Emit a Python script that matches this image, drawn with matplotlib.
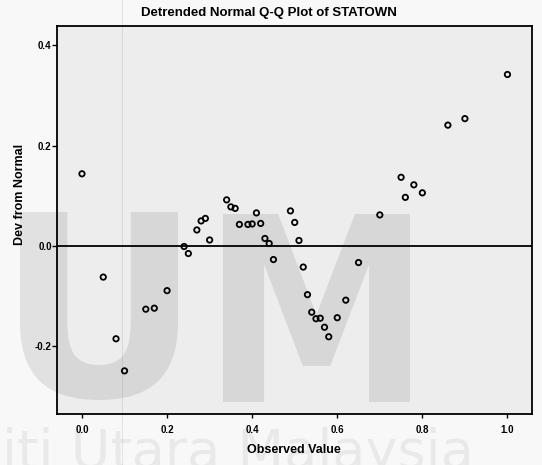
import matplotlib
matplotlib.use("Agg")
import matplotlib.pyplot as plt
from matplotlib.textpath import TextPath
from matplotlib.font_manager import FontProperties
from matplotlib.patches import PathPatch
from matplotlib.transforms import Affine2D
from matplotlib.lines import Line2D

# Observed values of STATOWN and their deviation from the normal line
observed = [0.00, 0.05, 0.08, 0.10, 0.15, 0.17, 0.20, 0.24, 0.25, 0.27,
            0.28, 0.29, 0.30, 0.34, 0.35, 0.36, 0.37, 0.39, 0.40, 0.41,
            0.42, 0.43, 0.44, 0.45, 0.49, 0.50, 0.51, 0.52, 0.53, 0.54,
            0.55, 0.56, 0.57, 0.58, 0.60, 0.62, 0.65, 0.70, 0.75, 0.76,
            0.78, 0.80, 0.86, 0.90, 1.00]
deviation = [0.144, -0.062, -0.185, -0.249, -0.126, -0.124, -0.089, -0.001, -0.015, 0.032,
             0.050, 0.055, 0.012, 0.092, 0.078, 0.075, 0.043, 0.043, 0.044, 0.066,
             0.045, 0.015, 0.005, -0.027, 0.070, 0.047, 0.011, -0.042, -0.097, -0.132,
             -0.145, -0.144, -0.162, -0.181, -0.143, -0.108, -0.033, 0.062, 0.137, 0.097,
             0.122, 0.106, 0.241, 0.254, 0.342]

x_ticks = [0.0, 0.2, 0.4, 0.6, 0.8, 1.0]
x_tick_labels = ["0.0", "0.2", "0.4", "0.6", "0.8", "1.0"]
y_ticks = [-0.2, 0.0, 0.2, 0.4]
y_tick_labels = ["-0.2", "0.0", "0.2", "0.4"]

title = "Detrended Normal Q-Q Plot of STATOWN"
x_label = "Observed Value"
y_label = "Dev from Normal"

W, H = 542, 465
plt.rcParams["font.family"] = ["Liberation Sans", "DejaVu Sans"]

fig = plt.figure(figsize=(W / 100, H / 100), dpi=100, facecolor="#f8f8f8")

# plot frame placed in pixel units
left_px, right_px, top_px, bottom_px = 57.3, 531.7, 26.0, 414.3
ax = fig.add_axes([left_px / W, 1 - bottom_px / H,
                   (right_px - left_px) / W, (bottom_px - top_px) / H])
ax.set_facecolor("#ededed")
ax.set_xlim(-0.058, 1.057)
ax.set_ylim(-0.3356, 0.4387)

ax.axhline(0.0, color="black", lw=1.3, zorder=1)
ax.scatter(observed, deviation, s=15, facecolors="none",
           edgecolors="black", linewidths=1.3, zorder=3)

ax.set_xticks(x_ticks)
ax.set_xticklabels(x_tick_labels)
ax.set_yticks(y_ticks)
ax.set_yticklabels(y_tick_labels)
ax.tick_params(axis="x", length=3, width=1, pad=5, labelsize=7, colors="black")
ax.tick_params(axis="y", length=3.5, width=1, pad=0.5, labelsize=7, colors="black")
for lab in ax.get_xticklabels() + ax.get_yticklabels():
    lab.set_fontweight("bold")
for sp in ax.spines.values():
    sp.set_linewidth(1.3)
    sp.set_color("black")

fig.text(269 / W, 1 - 13 / H, title, ha="center", va="center",
         fontsize=9.5, fontweight="bold")
fig.text(294 / W, 1 - 450 / H, x_label, ha="center", va="center",
         fontsize=9, fontweight="bold")
fig.text(20 / W, 1 - 194 / H, y_label, ha="center", va="center",
         rotation=90, fontsize=9, fontweight="bold")


# faint university emblem letters over the chart
def glyph(ch, x0, y0, x1, y1, alpha):
    tp = TextPath((0, 0), ch, size=100,
                  prop=FontProperties(family="DejaVu Sans", weight="bold"))
    ext = tp.get_extents()
    sx = (x1 - x0) / ext.width
    sy = (y1 - y0) / ext.height
    tr = (Affine2D().translate(-ext.x0, -ext.y0)
          .scale(sx / W, sy / H)
          .translate(x0 / W, 1 - y1 / H))
    fig.add_artist(PathPatch(tr.transform_path(tp), transform=fig.transFigure,
                             facecolor="black", edgecolor="none",
                             alpha=alpha, zorder=5))


glyph("U", 20, 212, 178, 400, 0.09)
glyph("M", 223, 214, 410, 402, 0.09)

fig.text(2 / W, 1 - 468 / H, "iti Utara Malaysia", ha="left", va="baseline",
         fontsize=39, family="DejaVu Sans", color="black", alpha=0.06, zorder=5)

fig.add_artist(Line2D([122 / W, 122 / W], [0, 1], transform=fig.transFigure,
                      color="black", lw=0.8, alpha=0.08, zorder=5))

fig.savefig("out.png", dpi=100, facecolor=fig.get_facecolor())
